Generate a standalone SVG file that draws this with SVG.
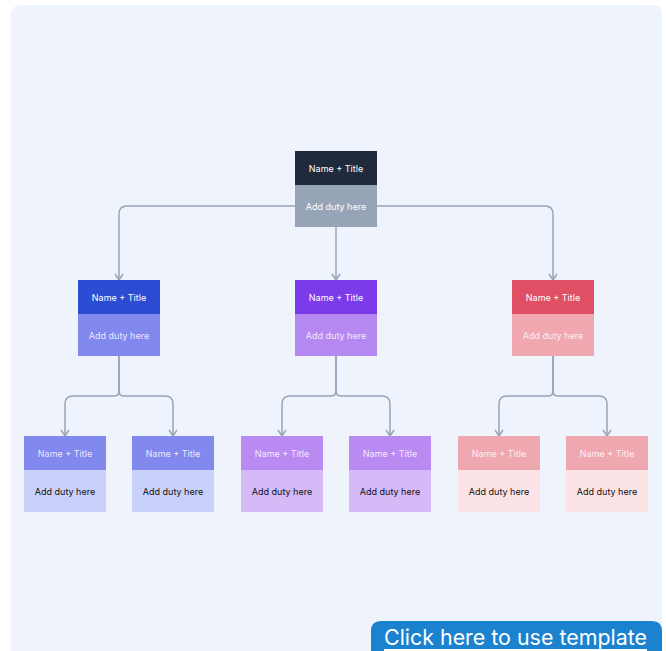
<svg xmlns="http://www.w3.org/2000/svg" width="666" height="651" viewBox="0 0 666 651">
  <defs>
    <style>
      .t { font-family: Inter, "Noto Sans", "Liberation Sans", sans-serif; font-size: 9px; text-anchor: middle; dominant-baseline: central; }
      .w { fill: #ffffff; }
      .wl { fill: #ffffff; fill-opacity: 0.85; }
      .k { fill: #111111; }
      .edge { fill: none; stroke: #98a4b8; stroke-width: 1.5; marker-end: url(#arrow); }
    </style>
    <!-- open chevron arrowhead, drawn along +x so orient="auto" turns it with the line -->
    <marker id="arrow" viewBox="0 0 8 10" refX="7" refY="5" markerWidth="8" markerHeight="10" markerUnits="userSpaceOnUse" orient="auto">
      <path d="M1 1 L7 5 L1 9" fill="none" stroke="#98a4b8" stroke-width="1.5"/>
    </marker>
  </defs>

  <rect width="666" height="651" fill="#ffffff"/>
  <!-- canvas panel -->
  <path d="M21 5 H652 Q662 5 662 15 V651 H11 V15 Q11 5 21 5 Z" fill="#eff3fb"/>

  <!-- connectors -->
  <g id="connectors">
    <path class="edge" d="M336 227 V280"/>
    <path class="edge" d="M295 206 H127 Q119 206 119 214 V280"/>
    <path class="edge" d="M377 206 H545 Q553 206 553 214 V280"/>

    <path class="edge" d="M119 356 V391 Q119 396 114 396 H73 Q65 396 65 404 V436"/>
    <path class="edge" d="M119 356 V391 Q119 396 124 396 H165 Q173 396 173 404 V436"/>

    <path class="edge" d="M336 356 V391 Q336 396 331 396 H290 Q282 396 282 404 V436"/>
    <path class="edge" d="M336 356 V391 Q336 396 341 396 H382 Q390 396 390 404 V436"/>

    <path class="edge" d="M553 356 V391 Q553 396 548 396 H507 Q499 396 499 404 V436"/>
    <path class="edge" d="M553 356 V391 Q553 396 558 396 H599 Q607 396 607 404 V436"/>
  </g>

  <!-- root -->
  <g id="root">
    <rect x="295" y="151" width="82" height="34" fill="#1f2a3c"/>
    <rect x="295" y="185" width="82" height="42" fill="#97a3b6"/>
    <text class="t w" x="336" y="168">Name + Title</text>
    <text class="t w" x="336" y="206">Add duty here</text>
  </g>

  <!-- second level -->
  <g id="lead-blue">
    <rect x="78" y="280" width="82" height="34" fill="#2b4cd3"/>
    <rect x="78" y="314" width="82" height="42" fill="#8189ee"/>
    <text class="t w" x="119" y="297">Name + Title</text>
    <text class="t wl" x="119" y="335">Add duty here</text>
  </g>
  <g id="lead-purple">
    <rect x="295" y="280" width="82" height="34" fill="#7b3be8"/>
    <rect x="295" y="314" width="82" height="42" fill="#b589f1"/>
    <text class="t w" x="336" y="297">Name + Title</text>
    <text class="t wl" x="336" y="335">Add duty here</text>
  </g>
  <g id="lead-red">
    <rect x="512" y="280" width="82" height="34" fill="#e05064"/>
    <rect x="512" y="314" width="82" height="42" fill="#f0a7af"/>
    <text class="t w" x="553" y="297">Name + Title</text>
    <text class="t wl" x="553" y="335">Add duty here</text>
  </g>

  <!-- third level -->
  <g id="blue-1">
    <rect x="24" y="436" width="82" height="34" fill="#8189ee"/>
    <rect x="24" y="470" width="82" height="42" fill="#c9d1fb"/>
    <text class="t wl" x="65" y="453">Name + Title</text>
    <text class="t k" x="65" y="491">Add duty here</text>
  </g>
  <g id="blue-2">
    <rect x="132" y="436" width="82" height="34" fill="#8189ee"/>
    <rect x="132" y="470" width="82" height="42" fill="#c9d1fb"/>
    <text class="t wl" x="173" y="453">Name + Title</text>
    <text class="t k" x="173" y="491">Add duty here</text>
  </g>
  <g id="purple-1">
    <rect x="241" y="436" width="82" height="34" fill="#b98af2"/>
    <rect x="241" y="470" width="82" height="42" fill="#d6b9f7"/>
    <text class="t wl" x="282" y="453">Name + Title</text>
    <text class="t k" x="282" y="491">Add duty here</text>
  </g>
  <g id="purple-2">
    <rect x="349" y="436" width="82" height="34" fill="#b98af2"/>
    <rect x="349" y="470" width="82" height="42" fill="#d6b9f7"/>
    <text class="t wl" x="390" y="453">Name + Title</text>
    <text class="t k" x="390" y="491">Add duty here</text>
  </g>
  <g id="red-1">
    <rect x="458" y="436" width="82" height="34" fill="#f0a8b0"/>
    <rect x="458" y="470" width="82" height="42" fill="#fce4e6"/>
    <text class="t wl" x="499" y="453">Name + Title</text>
    <text class="t k" x="499" y="491">Add duty here</text>
  </g>
  <g id="red-2">
    <rect x="566" y="436" width="82" height="34" fill="#f0a8b0"/>
    <rect x="566" y="470" width="82" height="42" fill="#fce4e6"/>
    <text class="t wl" x="607" y="453">Name + Title</text>
    <text class="t k" x="607" y="491">Add duty here</text>
  </g>

  <!-- template button -->
  <g id="template-button">
    <path d="M381 621 H652 Q662 621 662 631 V651 H371 V631 Q371 621 381 621 Z" fill="#1b82d0"/>
    <text x="384" y="645" font-family="Inter, 'Noto Sans', 'Liberation Sans', sans-serif" font-size="21.5" fill="#ffffff" textLength="263" lengthAdjust="spacingAndGlyphs">Click here to use template</text>
    <rect x="384" y="649" width="263" height="2" fill="#ffffff"/>
  </g>
</svg>
